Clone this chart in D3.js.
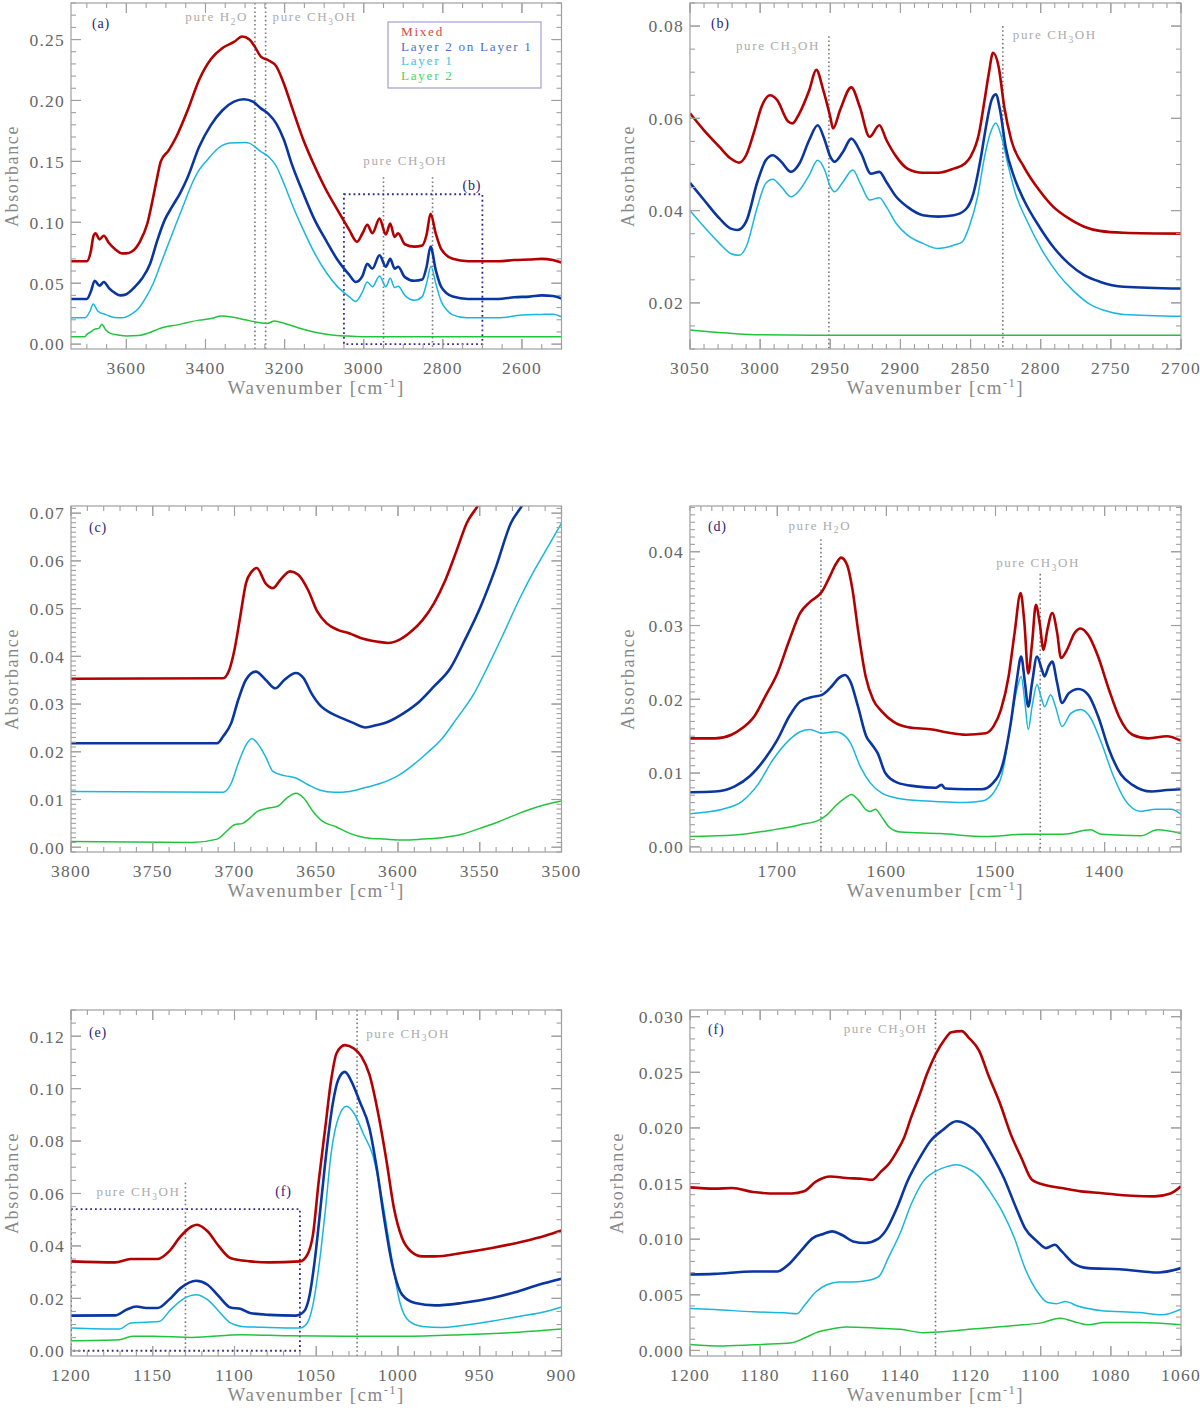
<!DOCTYPE html>
<html><head><meta charset="utf-8">
<script src="https://cdn.jsdelivr.net/npm/d3@7"></script>
<style>body{margin:0;background:#fff}svg text{font-family:'Liberation Serif','DejaVu Serif',serif}</style>
</head><body><svg id="c" width="1200" height="1408"></svg>
<script>
// ---------------- series ----------------
const seriesNames = ["Mixed","Layer 2 on Layer 1","Layer 1","Layer 2"];
const lineColors = ["#b30000","#0a36a2","#19b6de","#22c43e"];
const legendColors = ["#d84848","#4a72cc","#3cc4ea","#4ad468"];
const lineWidths = [2.6,2.6,1.5,1.5];

// ---------------- panel (a) ----------------
const aMixed = [[3740,0.068],[3700,0.068],[3690,0.076],[3683,0.089],[3678,0.091],[3668,0.086],[3657,0.089],[3644,0.083],[3629,0.078],[3610,0.0745],[3600,0.0745],[3586,0.076],[3566,0.084],[3547,0.099],[3532,0.121],[3522,0.137],[3513,0.150],[3493,0.159],[3474,0.170],[3445,0.192],[3416,0.217],[3386,0.234],[3357,0.243],[3328,0.248],[3307,0.2525],[3289,0.250],[3275,0.244],[3260,0.236],[3241,0.233],[3221,0.228],[3202,0.214],[3182,0.195],[3153,0.168],[3124,0.146],[3095,0.1265],[3066,0.110],[3037,0.094],[3017,0.084],[3003,0.091],[2991,0.098],[2978,0.091],[2960,0.103],[2944,0.090],[2933,0.099],[2922,0.088],[2913,0.091],[2896,0.082],[2872,0.080],[2852,0.081],[2841,0.090],[2831,0.107],[2818,0.091],[2804,0.078],[2775,0.070],[2736,0.068],[2660,0.068],[2620,0.069],[2580,0.0695],[2550,0.070],[2522,0.069],[2500,0.067]];
const aLayer21 = [[3740,0.037],[3700,0.037],[3690,0.043],[3680,0.052],[3668,0.048],[3657,0.051],[3644,0.046],[3629,0.042],[3615,0.040],[3600,0.041],[3580,0.0465],[3560,0.054],[3540,0.066],[3522,0.085],[3503,0.102],[3484,0.113],[3464,0.124],[3445,0.137],[3416,0.162],[3386,0.180],[3357,0.192],[3328,0.199],[3303,0.201],[3280,0.199],[3260,0.1935],[3241,0.189],[3221,0.181],[3202,0.168],[3182,0.148],[3153,0.124],[3124,0.102],[3095,0.085],[3066,0.069],[3037,0.057],[3020,0.051],[3003,0.056],[2991,0.066],[2978,0.062],[2960,0.073],[2944,0.0635],[2933,0.070],[2922,0.062],[2913,0.0635],[2896,0.055],[2872,0.052],[2852,0.053],[2841,0.0635],[2831,0.080],[2818,0.061],[2804,0.047],[2775,0.039],[2736,0.037],[2660,0.037],[2620,0.0385],[2580,0.039],[2550,0.040],[2522,0.0395],[2500,0.0375]];
const aLayer1 = [[3740,0.0216],[3705,0.0216],[3692,0.027],[3684,0.033],[3672,0.027],[3650,0.024],[3630,0.0218],[3610,0.0216],[3590,0.024],[3570,0.029],[3552,0.0375],[3532,0.050],[3513,0.066],[3493,0.083],[3474,0.099],[3454,0.1155],[3435,0.131],[3416,0.143],[3396,0.151],[3367,0.161],[3338,0.165],[3300,0.1655],[3290,0.165],[3260,0.158],[3241,0.154],[3221,0.146],[3202,0.132],[3182,0.1155],[3153,0.094],[3124,0.0745],[3095,0.059],[3066,0.047],[3037,0.039],[3020,0.035],[3003,0.043],[2991,0.051],[2978,0.047],[2960,0.056],[2944,0.047],[2933,0.054],[2922,0.0465],[2913,0.0476],[2896,0.040],[2872,0.036],[2852,0.039],[2841,0.050],[2830,0.064],[2818,0.050],[2804,0.035],[2790,0.028],[2775,0.024],[2740,0.0216],[2660,0.0216],[2620,0.023],[2600,0.024],[2551,0.0244],[2522,0.0246],[2500,0.0225]];
const aLayer2 = [[3740,0.006],[3705,0.006],[3700,0.008],[3690,0.010],[3680,0.0123],[3670,0.0129],[3662,0.0164],[3652,0.0115],[3640,0.0088],[3620,0.0074],[3600,0.0066],[3570,0.007],[3540,0.0096],[3520,0.0123],[3500,0.0142],[3474,0.0156],[3445,0.0178],[3416,0.0197],[3386,0.021],[3360,0.023],[3330,0.022],[3300,0.020],[3270,0.018],[3245,0.017],[3225,0.019],[3200,0.017],[3160,0.0129],[3120,0.0096],[3080,0.0074],[3040,0.0066],[3000,0.006],[2500,0.006]];
const aXTicks = [3600,3400,3200,3000,2800,2600];
const aYTicks = [0,0.05,0.10,0.15,0.20,0.25];

// ---------------- panel (b) ----------------
const bMixed = [[3050,0.0611],[3040,0.0574],[3029,0.0538],[3021,0.0513],[3015,0.0504],[3010,0.052],[3004,0.0574],[2999,0.0625],[2993,0.065],[2988,0.064],[2980,0.0593],[2977,0.0589],[2972,0.0611],[2965,0.0661],[2960,0.0705],[2955,0.0661],[2950,0.0603],[2948,0.0578],[2943,0.0618],[2935,0.0667],[2929,0.0625],[2922,0.056],[2915,0.0585],[2910,0.0553],[2903,0.0517],[2895,0.0491],[2884,0.0482],[2873,0.0482],[2862,0.0491],[2854,0.0502],[2850,0.0517],[2844,0.0567],[2840,0.064],[2837,0.0697],[2834,0.0742],[2830,0.0712],[2826,0.0625],[2821,0.0553],[2812,0.0495],[2801,0.0444],[2791,0.0408],[2780,0.0383],[2769,0.0365],[2758,0.0356],[2741,0.0352],[2700,0.035]];
const bLayer21 = [[3050,0.046],[3040,0.0423],[3029,0.0383],[3021,0.0361],[3016,0.0358],[3010,0.0376],[3002,0.0462],[2996,0.0509],[2991,0.052],[2985,0.0506],[2978,0.0484],[2972,0.0502],[2965,0.0553],[2959,0.0585],[2954,0.0553],[2950,0.0517],[2947,0.0506],[2941,0.0527],[2935,0.0556],[2928,0.0524],[2921,0.048],[2915,0.0484],[2910,0.0462],[2903,0.043],[2895,0.0408],[2884,0.039],[2873,0.0387],[2862,0.039],[2854,0.0401],[2848,0.0437],[2843,0.0509],[2839,0.0582],[2835,0.064],[2832,0.0652],[2829,0.0618],[2825,0.0538],[2819,0.0473],[2812,0.0423],[2801,0.0365],[2791,0.0321],[2780,0.0285],[2769,0.026],[2758,0.0246],[2741,0.0235],[2700,0.0231]];
const bLayer1 = [[3050,0.04],[3040,0.0365],[3029,0.0329],[3021,0.0307],[3015,0.0303],[3010,0.0321],[3002,0.0408],[2996,0.0459],[2991,0.0468],[2985,0.0452],[2978,0.043],[2972,0.0444],[2965,0.0477],[2959,0.0509],[2954,0.0488],[2950,0.0452],[2947,0.0441],[2941,0.0462],[2934,0.0488],[2928,0.0455],[2922,0.0423],[2915,0.0428],[2910,0.0408],[2903,0.0372],[2895,0.0347],[2884,0.0329],[2874,0.0318],[2862,0.0325],[2856,0.0332],[2851,0.0365],[2845,0.043],[2840,0.0517],[2836,0.0567],[2832,0.059],[2828,0.056],[2823,0.0495],[2818,0.0437],[2810,0.0379],[2799,0.0314],[2788,0.0264],[2777,0.0227],[2766,0.0199],[2755,0.0184],[2741,0.0175],[2700,0.0171]];
const bLayer2 = [[3050,0.0141],[3030,0.0136],[3004,0.0131],[2950,0.013],[2700,0.013]];
const bXTicks = [3050,3000,2950,2900,2850,2800,2750,2700];
const bYTicks = [0.02,0.04,0.06,0.08];

// ---------------- panel (c) ----------------
const cMixed = [[3800,0.0353],[3707,0.0354],[3703.6,0.0368],[3700,0.0414],[3696.5,0.0483],[3693,0.0553],[3689.4,0.0578],[3686.4,0.0585],[3681,0.0553],[3676.5,0.0543],[3672,0.056],[3666,0.0578],[3661,0.0571],[3655,0.0539],[3649.4,0.0494],[3643.6,0.0469],[3636.5,0.0455],[3629.5,0.0448],[3622.4,0.0438],[3613,0.0431],[3606,0.0428],[3599,0.0435],[3592,0.0452],[3585,0.0476],[3578,0.0511],[3571,0.056],[3564,0.0623],[3558,0.0679],[3551,0.0717],[3545,0.076]];
const cLayer21 = [[3800,0.0218],[3710.6,0.0218],[3707,0.0232],[3702,0.026],[3697.7,0.0309],[3693,0.0351],[3687,0.0368],[3681,0.0351],[3675,0.0333],[3669.4,0.0351],[3662.4,0.0365],[3657.7,0.0354],[3653,0.0323],[3647,0.0295],[3641,0.0281],[3634,0.027],[3627,0.026],[3620,0.0251],[3613,0.0256],[3606,0.0263],[3596.5,0.0281],[3587,0.0305],[3578,0.0337],[3568,0.0375],[3559,0.0435],[3549.5,0.0504],[3540,0.0588],[3531,0.0679],[3524,0.0717],[3518,0.076]];
const cLayer1 = [[3800,0.0117],[3707,0.0115],[3702,0.0134],[3697.7,0.0176],[3693,0.0214],[3689.4,0.0228],[3686,0.0218],[3681,0.019],[3676.5,0.0159],[3669.4,0.015],[3662.4,0.0145],[3655,0.0131],[3648,0.012],[3639,0.0115],[3629.5,0.0117],[3620,0.0125],[3610.6,0.0134],[3601,0.0148],[3592,0.0169],[3582.4,0.0197],[3573,0.0228],[3564,0.027],[3554,0.0319],[3545,0.0379],[3535.4,0.0448],[3526,0.0518],[3516.5,0.0581],[3507,0.0637],[3500,0.0679]];
const cLayer2 = [[3800,0.0012],[3726,0.001],[3710.6,0.0017],[3705,0.0033],[3700,0.0047],[3695,0.005],[3690.6,0.0061],[3686,0.0075],[3679,0.0082],[3673,0.0087],[3668,0.0103],[3662.4,0.0113],[3657.7,0.0103],[3652,0.0075],[3646,0.0054],[3638,0.0043],[3629.5,0.0029],[3620,0.002],[3608,0.0017],[3596.5,0.0015],[3585,0.0017],[3573,0.002],[3561,0.0027],[3549.5,0.004],[3538,0.0054],[3526,0.0071],[3514.5,0.0085],[3500,0.0097]];
const cXTicks = [3800,3750,3700,3650,3600,3550,3500];
const cYTicks = [0,0.01,0.02,0.03,0.04,0.05,0.06,0.07];

// ---------------- panel (d) ----------------
const dMixed = [[1780,0.0147],[1757,0.0147],[1742,0.0152],[1732,0.0161],[1721,0.0177],[1711,0.0204],[1700,0.0235],[1689,0.028],[1679,0.0317],[1670,0.0332],[1659,0.0346],[1652,0.0366],[1646,0.0384],[1641.5,0.0392],[1636,0.0382],[1631,0.0348],[1626,0.0294],[1619,0.0231],[1612,0.0199],[1604.5,0.0184],[1594,0.017],[1580,0.0162],[1558,0.0159],[1544,0.0155],[1527,0.0152],[1509,0.0154],[1502,0.0163],[1495,0.0186],[1488,0.0231],[1482.5,0.029],[1477,0.0344],[1473.5,0.0303],[1470,0.0235],[1466.5,0.0276],[1463,0.0328],[1459.5,0.0303],[1456,0.0267],[1452.5,0.0294],[1448,0.0317],[1443.5,0.029],[1440,0.0256],[1434.5,0.0267],[1427.5,0.029],[1422,0.0296],[1415,0.0287],[1406,0.0258],[1396,0.0213],[1387,0.0177],[1374.5,0.0152],[1360,0.0147],[1343,0.015],[1330,0.0144]];
const dLayer21 = [[1780,0.0074],[1757,0.0075],[1739,0.0082],[1725,0.0096],[1711,0.012],[1700,0.0145],[1689,0.0177],[1679,0.0197],[1668,0.0203],[1659,0.0206],[1650.5,0.0217],[1643.5,0.0229],[1638,0.0233],[1633,0.0224],[1626,0.019],[1618.5,0.015],[1613,0.0138],[1608,0.0127],[1601,0.01],[1590,0.0087],[1573,0.0082],[1555,0.008],[1549.5,0.0084],[1546,0.0079],[1527,0.0078],[1512.5,0.0078],[1502,0.0087],[1493,0.0114],[1486,0.0168],[1480.5,0.0226],[1476.5,0.0258],[1473,0.0222],[1470,0.019],[1466.5,0.0222],[1462,0.0258],[1457.5,0.024],[1455,0.0231],[1451.5,0.0244],[1448,0.0251],[1443.5,0.0222],[1439,0.0195],[1433,0.0208],[1424,0.0214],[1415,0.0206],[1406,0.0177],[1396,0.0132],[1385,0.0098],[1374.5,0.0084],[1357,0.0075],[1343,0.0077],[1330,0.0078]];
const dLayer1 = [[1780,0.0045],[1750,0.0051],[1732,0.0062],[1718,0.0084],[1704,0.0118],[1689,0.0145],[1679,0.0156],[1670,0.0159],[1659,0.0154],[1647,0.0156],[1641.5,0.0154],[1633,0.0141],[1624,0.0109],[1615,0.0087],[1604.5,0.0073],[1590,0.0066],[1562,0.0062],[1527,0.006],[1512.5,0.0062],[1502,0.0073],[1493,0.0105],[1486,0.0168],[1480.5,0.0213],[1476.5,0.0231],[1473,0.0195],[1470,0.0159],[1466.5,0.019],[1462,0.022],[1458.5,0.0204],[1455,0.019],[1449.5,0.0206],[1445,0.019],[1439,0.0163],[1431,0.0181],[1422,0.0186],[1413,0.0175],[1403,0.0141],[1392,0.0096],[1381.5,0.0064],[1367,0.0048],[1353,0.0051],[1339,0.0051],[1330,0.0044]];
const dLayer2 = [[1780,0.0014],[1739,0.0016],[1704,0.0023],[1679,0.003],[1661,0.0037],[1654,0.0044],[1647,0.0055],[1638,0.0066],[1632,0.0071],[1626,0.0064],[1618.5,0.005],[1615,0.0048],[1610,0.0051],[1604.5,0.0041],[1597,0.0026],[1587,0.002],[1551,0.0018],[1509,0.0014],[1474,0.0017],[1438,0.0017],[1413,0.0023],[1403,0.0017],[1367,0.0015],[1351.5,0.0023],[1330,0.0018]];
const dXTicks = [1700,1600,1500,1400];
const dYTicks = [0,0.01,0.02,0.03,0.04];

// ---------------- panel (e) ----------------
const eMixed = [[1200,0.0341],[1173,0.0337],[1163.5,0.035],[1147,0.035],[1140,0.0379],[1133,0.0436],[1126,0.0475],[1123,0.0481],[1116.5,0.0456],[1109.5,0.0398],[1102.5,0.0354],[1090.5,0.0341],[1079,0.0337],[1060,0.0341],[1055.5,0.0366],[1052,0.0443],[1048.5,0.0646],[1044.5,0.085],[1041,0.1028],[1037.5,0.1136],[1032.5,0.1166],[1027,0.1153],[1022.5,0.1124],[1017.5,0.1054],[1012,0.0901],[1007,0.0723],[1002.5,0.0545],[997.5,0.043],[992,0.0379],[985,0.036],[977.5,0.036],[961,0.0373],[942.5,0.0392],[923.5,0.0417],[909.5,0.044],[900,0.0459]];
const eLayer21 = [[1200,0.0134],[1173,0.0135],[1166,0.0157],[1160,0.0169],[1154,0.0163],[1147,0.0163],[1140,0.0195],[1133,0.0239],[1123.5,0.0267],[1116.5,0.0252],[1109.5,0.0207],[1102.5,0.0165],[1096,0.0159],[1090.5,0.0144],[1079,0.0137],[1062.5,0.0134],[1057.5,0.015],[1054,0.0214],[1050.5,0.0366],[1047,0.057],[1043.5,0.0774],[1040,0.0939],[1036.5,0.1035],[1032.5,0.1064],[1028.5,0.1028],[1023.5,0.0952],[1017.5,0.085],[1013,0.0697],[1008.5,0.0506],[1003.5,0.0328],[997.5,0.0214],[989.5,0.0182],[977.5,0.0173],[961,0.0182],[942.5,0.0201],[928.5,0.0223],[914,0.0252],[900,0.0275]];
const eLayer1 = [[1200,0.0087],[1170.5,0.0083],[1163.5,0.0106],[1154,0.0109],[1146,0.0112],[1139,0.0157],[1130.5,0.0201],[1123.5,0.0214],[1116.5,0.0195],[1109.5,0.015],[1102.5,0.0106],[1095.5,0.0093],[1079,0.0089],[1060,0.0087],[1055.5,0.0106],[1052,0.0176],[1048.5,0.0316],[1044.5,0.0532],[1041,0.0748],[1036.5,0.0888],[1031.5,0.0933],[1027,0.0907],[1021,0.0825],[1015.5,0.0748],[1009.5,0.057],[1003.5,0.0341],[999,0.0188],[993,0.0112],[985,0.0093],[973,0.0089],[949.5,0.0106],[926,0.0131],[909.5,0.015],[900,0.0167]];
const eLayer2 = [[1200,0.0038],[1170.5,0.0042],[1162.5,0.0055],[1149.5,0.0055],[1126,0.0051],[1095.5,0.0061],[1067,0.0057],[1032,0.0055],[996.5,0.0055],[961,0.0061],[926,0.0071],[900,0.0083]];
const eXTicks = [1200,1150,1100,1050,1000,950,900];
const eYTicks = [0,0.02,0.04,0.06,0.08,0.10,0.12];

// ---------------- panel (f) ----------------
const fMixed = [[1200,0.01466],[1193,0.01454],[1188,0.0146],[1182,0.01424],[1175,0.0141],[1171,0.0141],[1167.5,0.0143],[1164,0.0152],[1160,0.01564],[1155.5,0.0155],[1151,0.01543],[1148,0.01534],[1145.5,0.0161],[1143.5,0.0167],[1141,0.0179],[1139,0.0191],[1137,0.0209],[1134.5,0.023],[1132.5,0.0248],[1130,0.0266],[1127.5,0.0279],[1125.5,0.0286],[1122.5,0.0287],[1120.5,0.0281],[1117.5,0.0269],[1115,0.0248],[1111.5,0.0221],[1108.5,0.0194],[1105.5,0.0173],[1102.5,0.01534],[1098.5,0.01484],[1094,0.0146],[1088.5,0.0143],[1083,0.01415],[1074,0.0139],[1067.5,0.01385],[1063,0.0141],[1060,0.01475]];
const fLayer21 = [[1200,0.00682],[1193,0.00688],[1182,0.0071],[1175,0.0071],[1172,0.0077],[1168.5,0.0089],[1165,0.0101],[1162,0.01047],[1159.5,0.0107],[1156.5,0.01035],[1153.5,0.0098],[1150,0.00966],[1146.5,0.01],[1144,0.01086],[1141,0.0128],[1138,0.0152],[1134.5,0.0173],[1131.5,0.0188],[1128,0.0198],[1124,0.0206],[1121,0.0203],[1117.5,0.0194],[1114.5,0.0179],[1110.5,0.0155],[1107,0.0128],[1104.5,0.011],[1101,0.0098],[1098.5,0.0092],[1096,0.0095],[1094,0.0089],[1090.5,0.0078],[1086.5,0.0074],[1077.5,0.0073],[1066.5,0.007],[1060,0.0074]];
const fLayer1 = [[1200,0.00377],[1193,0.00368],[1182,0.00347],[1173,0.00338],[1169.5,0.0033],[1167.5,0.004],[1164,0.0053],[1161,0.0059],[1157.5,0.00616],[1153.5,0.00616],[1149,0.0063],[1146,0.0067],[1143.5,0.0083],[1140,0.0106],[1137,0.0131],[1133.5,0.0152],[1130,0.0161],[1127,0.0165],[1124,0.0167],[1121,0.0164],[1117.5,0.0156],[1114.5,0.0143],[1111,0.0125],[1107.5,0.0101],[1104.5,0.0074],[1101,0.0053],[1098,0.0043],[1095.5,0.0042],[1093,0.0044],[1089.5,0.004],[1083,0.0036],[1072,0.0034],[1065.5,0.0032],[1060,0.0037]];
const fLayer2 = [[1200,0.00054],[1190.5,0.0004],[1179.5,0.00054],[1171,0.0007],[1167.5,0.0011],[1164,0.0016],[1160,0.0019],[1155.5,0.0021],[1146.5,0.002],[1140,0.0019],[1133.5,0.0016],[1127,0.0017],[1120.5,0.0019],[1112.5,0.0021],[1105,0.0023],[1099.5,0.0025],[1094.5,0.0029],[1089.5,0.0025],[1086.5,0.0023],[1082,0.0025],[1072,0.0025],[1060,0.0023]];
const fXTicks = [1200,1180,1160,1140,1120,1100,1080,1060];
const fYTicks = [0,0.005,0.010,0.015,0.020,0.025,0.030];

// ---------------- annotations (data coordinates) ----------------
const H2O = [["pure H",0],["2",1],["O",0]];
const CH3OH = [["pure CH",0],["3",1],["OH",0]];
const aRefLines = [{wn:3275,from:null},{wn:3248,from:null},{wn:2950,from:0.137},{wn:2826,from:0.137}];
const aRefLabels = [{wn:3275,y:0.265,anchor:"end",dx:-7,parts:H2O},{wn:3248,y:0.265,anchor:"start",dx:7,parts:CH3OH},{wn:2895,y:0.147,anchor:"middle",dx:0,parts:CH3OH},{wn:2703,y:0.1265,anchor:"end",dx:0,parts:[["(b)",2]]}];
const aBox = {x1:3050,x2:2700,y1:0,y2:0.123};
const bRefLines = [{wn:2951,from:0.0778},{wn:2827,from:0.080}];
const bRefLabels = [{wn:2951,y:0.0748,anchor:"end",dx:-9,parts:CH3OH},{wn:2827,y:0.0771,anchor:"start",dx:10,parts:CH3OH}];
const dRefLines = [{wn:1660,from:0.0417},{wn:1459,from:0.037}];
const dRefLabels = [{wn:1661,y:0.043,anchor:"middle",dx:0,parts:H2O},{wn:1461,y:0.0379,anchor:"middle",dx:0,parts:CH3OH}];
const eRefLines = [{wn:1025,from:null},{wn:1130,from:0.0641}];
const eRefLabels = [{wn:1025,y:0.1195,anchor:"start",dx:9,parts:CH3OH},{wn:1130,y:0.0589,anchor:"end",dx:-5,parts:CH3OH},{wn:1065,y:0.0589,anchor:"end",dx:0,parts:[["(f)",2]]}];
const eBox = {x1:1200,x2:1060,y1:0,y2:0.054};
const fRefLines = [{wn:1130,from:null}];
const fRefLabels = [{wn:1130,y:0.0285,anchor:"end",dx:-8,parts:CH3OH}];

// ---------------- layout ----------------
const panels = [
 {tag:"(a)",x:71,y:3,w:490.5,h:346,xd:[3740,2500],yd:[-0.004,0.28],xt:aXTicks,xm:50,yt:aYTicks,ym:0.01,yf:".2f",s:[aMixed,aLayer21,aLayer1,aLayer2],lines:aRefLines,labels:aRefLabels,box:aBox,legend:true,tagOff:[21,25],ylab:53},
 {tag:"(b)",x:690,y:3,w:491,h:346,xd:[3050,2700],yd:[0.01,0.085],xt:bXTicks,xm:10,yt:bYTicks,ym:0.005,yf:".2f",s:[bMixed,bLayer21,bLayer1,bLayer2],lines:bRefLines,labels:bRefLabels,tagOff:[21,25],ylab:56},
 {tag:"(c)",x:71,y:506,w:490.5,h:346,xd:[3800,3500],yd:[-0.001,0.0715],xt:cXTicks,xm:10,yt:cYTicks,ym:0.001,yf:".2f",s:[cMixed,cLayer21,cLayer1,cLayer2],lines:[],labels:[],tagOff:[18,26],ylab:53},
 {tag:"(d)",x:690,y:506,w:491,h:346,xd:[1780,1330],yd:[-0.0007,0.0462],xt:dXTicks,xm:10,yt:dYTicks,ym:0.001,yf:".2f",s:[dMixed,dLayer21,dLayer1,dLayer2],lines:dRefLines,labels:dRefLabels,tagOff:[18,25],ylab:56},
 {tag:"(e)",x:71,y:1010,w:490.5,h:346,xd:[1200,900],yd:[-0.002,0.13],xt:eXTicks,xm:10,yt:eYTicks,ym:0.005,yf:".2f",s:[eMixed,eLayer21,eLayer1,eLayer2],lines:eRefLines,labels:eRefLabels,box:eBox,tagOff:[18,27],ylab:53},
 {tag:"(f)",x:690,y:1010,w:491,h:346,xd:[1200,1060],yd:[-0.0005,0.0306],xt:fXTicks,xm:5,yt:fYTicks,ym:0.001,yf:".3f",s:[fMixed,fLayer21,fLayer1,fLayer2],lines:fRefLines,labels:fRefLabels,tagOff:[18,24],ylab:67}
];

const svg = d3.select("#c");
const frameCol = "#a0a0a0", tickLabCol = "#666666", titleCol = "#888888", annCol = "#ababab", tagCol = "#2d1b7a";

function multiples(dom, step){
  const lo = Math.min(dom[0],dom[1]), hi = Math.max(dom[0],dom[1]);
  const n0 = Math.ceil(lo/step - 1e-6), n1 = Math.floor(hi/step + 1e-6);
  return d3.range(n0, n1+1).map(i => i*step);
}
function writeParts(t, parts, size){
  let shifted = false;
  parts.forEach(([str,type]) => {
    const ts = t.append("tspan").text(str);
    if (type === 1){ ts.attr("font-size", size*0.72).attr("dy", 3.5); shifted = true; }
    else if (shifted){ ts.attr("dy", -3.5); shifted = false; }
  });
}

panels.forEach((p, pi) => {
  const g = svg.append("g");
  const x = d3.scaleLinear().domain(p.xd).range([p.x, p.x+p.w]);
  const y = d3.scaleLinear().domain(p.yd).range([p.y+p.h, p.y]);
  const clipId = "clip"+pi;
  svg.append("clipPath").attr("id", clipId).append("rect").attr("x",p.x).attr("y",p.y).attr("width",p.w).attr("height",p.h);

  // reference lines
  const rl = g.append("g").attr("clip-path",`url(#${clipId})`);
  p.lines.forEach(l => {
    rl.append("line").attr("x1",x(l.wn)).attr("x2",x(l.wn))
      .attr("y1", l.from===null ? p.y : y(l.from)).attr("y2", p.y+p.h)
      .attr("stroke","#7a7a7a").attr("stroke-width",1.6).attr("stroke-dasharray","1.6 2.6");
  });
  if (p.box){
    rl.append("rect").attr("x",x(p.box.x1)).attr("y",y(p.box.y2))
      .attr("width",x(p.box.x2)-x(p.box.x1)).attr("height",y(p.box.y1)-y(p.box.y2))
      .attr("fill","none").attr("stroke","#2f2a8c").attr("stroke-width",1.8).attr("stroke-dasharray","1.8 3");
  }

  // series
  const line = d3.line().x(d=>x(d[0])).y(d=>y(d[1])).curve(d3.curveMonotoneX);
  const lg = g.append("g").attr("clip-path",`url(#${clipId})`);
  [3,2,1,0].forEach(k => {
    lg.append("path").datum(p.s[k]).attr("d", line).attr("fill","none")
      .attr("stroke", lineColors[k]).attr("stroke-width", lineWidths[k]).attr("stroke-linejoin","round");
  });

  // frame
  g.append("rect").attr("x",p.x).attr("y",p.y).attr("width",p.w).attr("height",p.h)
    .attr("fill","none").attr("stroke",frameCol).attr("stroke-width",1.2);

  // ticks
  const tg = g.append("g").attr("stroke",frameCol).attr("stroke-width",1.1);
  const majLen = 10, minLen = 5;
  multiples(p.xd, p.xm).forEach(v => {
    const isMaj = p.xt.some(t => Math.abs(t-v) < 1e-6);
    const L = isMaj ? majLen : minLen, xx = x(v);
    tg.append("line").attr("x1",xx).attr("x2",xx).attr("y1",p.y+p.h).attr("y2",p.y+p.h-L);
    tg.append("line").attr("x1",xx).attr("x2",xx).attr("y1",p.y).attr("y2",p.y+L);
  });
  p.xt.forEach(v => {
    const xx = x(v);
    tg.append("line").attr("x1",xx).attr("x2",xx).attr("y1",p.y+p.h).attr("y2",p.y+p.h-majLen);
    tg.append("line").attr("x1",xx).attr("x2",xx).attr("y1",p.y).attr("y2",p.y+majLen);
  });
  multiples(p.yd, p.ym).forEach(v => {
    const isMaj = p.yt.some(t => Math.abs(t-v) < 1e-9);
    const L = isMaj ? majLen : minLen, yy = y(v);
    tg.append("line").attr("x1",p.x).attr("x2",p.x+L).attr("y1",yy).attr("y2",yy);
    tg.append("line").attr("x1",p.x+p.w).attr("x2",p.x+p.w-L).attr("y1",yy).attr("y2",yy);
  });
  p.yt.forEach(v => {
    const yy = y(v);
    tg.append("line").attr("x1",p.x).attr("x2",p.x+majLen).attr("y1",yy).attr("y2",yy);
    tg.append("line").attr("x1",p.x+p.w).attr("x2",p.x+p.w-majLen).attr("y1",yy).attr("y2",yy);
  });

  // tick labels
  const fy = d3.format(p.yf);
  p.xt.forEach(v => {
    g.append("text").attr("x",x(v)).attr("y",p.y+p.h+25).attr("text-anchor","middle")
      .attr("font-size",17.5).attr("letter-spacing",1.2).attr("fill",tickLabCol).text(d3.format("d")(v));
  });
  p.yt.forEach(v => {
    g.append("text").attr("x",p.x-6).attr("y",y(v)).attr("dy","0.36em").attr("text-anchor","end")
      .attr("font-size",17.5).attr("letter-spacing",1.2).attr("fill",tickLabCol).text(fy(v));
  });

  // axis titles
  const xt = g.append("text").attr("x",p.x+p.w/2).attr("y",p.y+p.h+45).attr("text-anchor","middle")
    .attr("font-size",19).attr("letter-spacing",1.5).attr("fill",titleCol);
  xt.append("tspan").text("Wavenumber [cm");
  xt.append("tspan").text("-1").attr("font-size",12.5).attr("dy",-7);
  xt.append("tspan").text("]").attr("dy",7);
  g.append("text").attr("transform",`translate(${p.x-p.ylab},${p.y+p.h/2}) rotate(-90)`)
    .attr("text-anchor","middle").attr("font-size",18).attr("letter-spacing",1.6).attr("fill",titleCol).text("Absorbance");

  // panel tag
  g.append("text").attr("x",p.x+p.tagOff[0]).attr("y",p.y+p.tagOff[1]).attr("font-size",14)
    .attr("letter-spacing",0.8).attr("fill",tagCol).text(p.tag);

  // annotation labels
  p.labels.forEach(l => {
    const isTag = l.parts.length===1 && l.parts[0][1]===2;
    const t = g.append("text").attr("x",x(l.wn)+l.dx).attr("y",y(l.y)).attr("text-anchor",l.anchor)
      .attr("font-size", isTag?14:13).attr("letter-spacing", isTag?0.8:1.6).attr("fill", isTag?tagCol:annCol);
    writeParts(t, l.parts.map(q=>[q[0], q[1]===2?0:q[1]]), 13);
  });

  // legend
  if (p.legend){
    const lgd = g.append("g");
    lgd.append("rect").attr("x",388).attr("y",22).attr("width",153).attr("height",66)
      .attr("fill","#fff").attr("stroke","#a0a0d2").attr("stroke-width",1.2);
    seriesNames.forEach((n,i) => {
      lgd.append("text").attr("x",401).attr("y",36+i*14.7).attr("font-size",13.2)
        .attr("letter-spacing",1.7).attr("fill",legendColors[i]).text(n);
    });
  }
});
</script></body></html>
